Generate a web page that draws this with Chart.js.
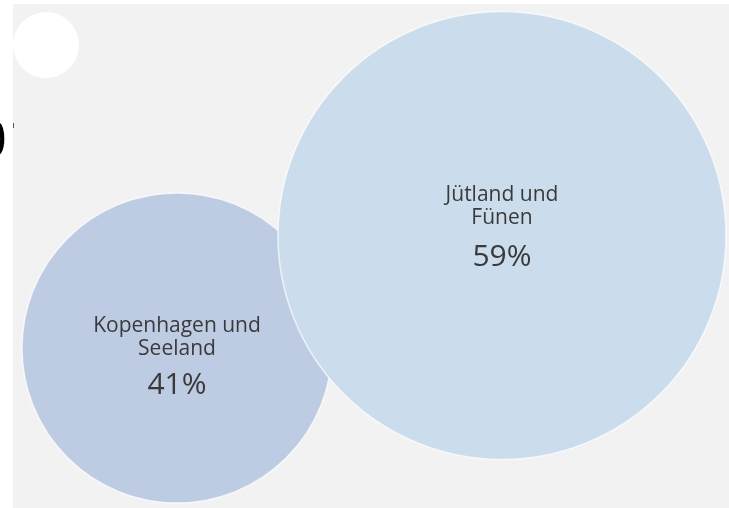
<!DOCTYPE html>
<html>
<head>
<meta charset="utf-8">
<script src="https://cdn.jsdelivr.net/npm/chart.js@4.4.0/dist/chart.umd.min.js"></script>
<style>
  html, body { margin: 0; padding: 0; background: #ffffff; }
  #wrap { width: 729px; height: 508px; }
</style>
</head>
<body>
<div id="wrap"><canvas id="chart" width="729" height="508"></canvas></div>
<script>
const regions = ['Kopenhagen und\nSeeland', 'Jütland und\nFünen']
const shares = [41, 59]
// bubble centres and radii in the chart's own (pixel-like) units
const centerX = [177, 502]
const centerY = [348, 235.5]
const radius = [155, 224]

const bubbleColors = ['#bdcbe3', '#cbdcec']

// gray panel behind the bubbles plus the cut-off headline digit
const panelPlugin = {
  id: 'panel',
  beforeDraw(chart) {
    const { ctx } = chart
    ctx.save()
    ctx.fillStyle = '#f2f2f2'
    ctx.fillRect(13, 4, 716, 504)
    // white decorative dot in the corner
    ctx.fillStyle = '#ffffff'
    ctx.beginPath()
    ctx.arc(46, 45, 33, 0, Math.PI * 2)
    ctx.fill()
    ctx.fillStyle = '#000000'
    ctx.font = '52px "Open Sans"'
    ctx.textAlign = 'right'
    ctx.textBaseline = 'alphabetic'
    ctx.fillText('0', 7, 157)
    ctx.fillStyle = '#555555'
    ctx.fillRect(13, 123, 1, 5)
    ctx.restore()
  },
}

const labelOffsets = [[-22, 1, 37], [-40, -17, 22]]

const labelPlugin = {
  id: 'bubbleLabels',
  afterDatasetsDraw(chart) {
    const { ctx } = chart
    chart.data.datasets.forEach((ds, i) => {
      const el = chart.getDatasetMeta(i).data[0]
      const lines = regions[i].split('\n')
      const off = labelOffsets[i]
      ctx.save()
      ctx.fillStyle = '#3a3a3a'
      ctx.textAlign = 'center'
      ctx.textBaseline = 'middle'
      ctx.font = '21px "Open Sans"'
      ctx.fillText(lines[0], el.x, el.y + off[0])
      ctx.fillText(lines[1], el.x, el.y + off[1])
      ctx.font = '30px "Open Sans"'
      ctx.fillText(shares[i] + '%', el.x, el.y + off[2])
      ctx.restore()
    })
  },
}

new Chart(document.getElementById('chart'), {
  type: 'bubble',
  data: {
    datasets: regions.map((r, i) => ({
      label: r,
      data: [{ x: centerX[i], y: centerY[i], r: radius[i] }],
      backgroundColor: bubbleColors[i],
      borderColor: 'rgba(255,255,255,0.7)',
      borderWidth: 1.5,
      order: regions.length - i, // later region drawn on top
    })),
  },
  options: {
    responsive: false,
    animation: false,
    layout: { padding: 0, autoPadding: false },
    clip: false,
    plugins: {
      legend: { display: false },
      tooltip: { enabled: false },
    },
    scales: {
      x: { display: false, min: 0, max: 729 },
      y: { display: false, min: 0, max: 508, reverse: true },
    },
  },
  plugins: [panelPlugin, labelPlugin],
})
</script>
</body>
</html>
